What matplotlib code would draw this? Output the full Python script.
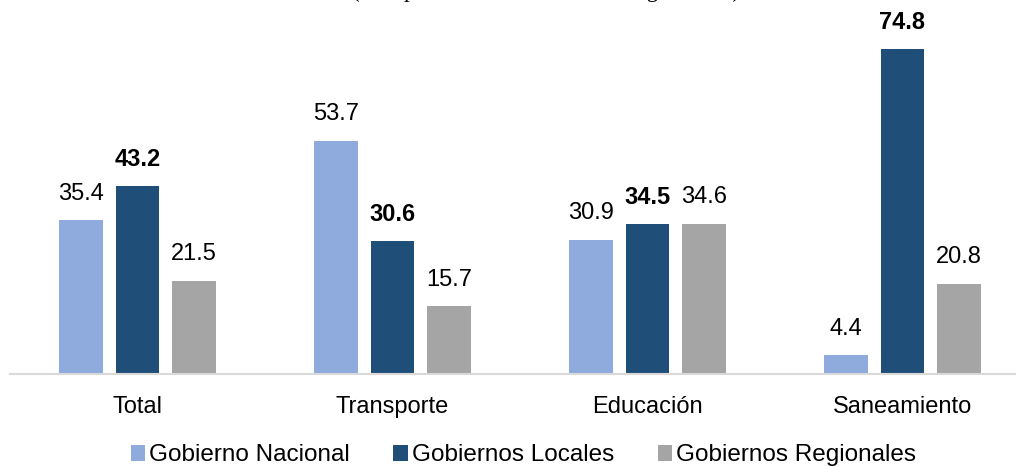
import matplotlib.pyplot as plt
import numpy as np

plt.rcParams['font.family'] = ['Liberation Sans', 'DejaVu Sans']

categories = ['Total', 'Transporte', 'Educación', 'Saneamiento']
series_names = ['Gobierno Nacional', 'Gobiernos Locales', 'Gobiernos Regionales']
nacional = [35.4, 53.7, 30.9, 4.4]
locales = [43.2, 30.6, 34.5, 74.8]
regionales = [21.5, 15.7, 34.6, 20.8]
colors = ['#8FAADC', '#1F4E79', '#A5A5A5']
title = '(Composición de la inversión según nivel)'

W, H = 1016, 466
fig = plt.figure(figsize=(W / 100, H / 100), dpi=100)
ax = fig.add_axes([10 / W, 92 / H, 1020 / W, 347.6 / H])

x = np.arange(len(categories))
width = 0.1725
step = 0.2216
all_series = [nacional, locales, regionales]
for i, (vals, name, col) in enumerate(zip(all_series, series_names, colors)):
    bars = ax.bar(x + (i - 1) * step, vals, width, color=col, label=name)
    weight = 'bold' if i == 1 else 'normal'
    ax.bar_label(bars, labels=['%.1f' % v for v in vals], padding=11,
                 fontsize=17, fontweight=weight, color='black')

ax.set_xlim(-0.5, 3.5)
ax.set_ylim(0, 80)
ax.set_xticks(x)
ax.set_xticklabels(categories, fontsize=17)
ax.tick_params(axis='x', length=0, pad=16)
ax.set_yticks([])
for s in ['top', 'right', 'left']:
    ax.spines[s].set_visible(False)
ax.spines['bottom'].set_color('#D9D9D9')
ax.spines['bottom'].set_linewidth(1.5)

fig.legend(loc='lower center', bbox_to_anchor=(0.515, -0.048), ncol=3, frameon=False,
           fontsize=17.5, handlelength=0.6, handleheight=0.6, handletextpad=0.15,
           columnspacing=1.8)

fig.text(0.537, 1 + 2.5 / H, title, ha='center', va='baseline',
         fontsize=16.5, family='Liberation Serif')

fig.savefig('out.png', dpi=100)
